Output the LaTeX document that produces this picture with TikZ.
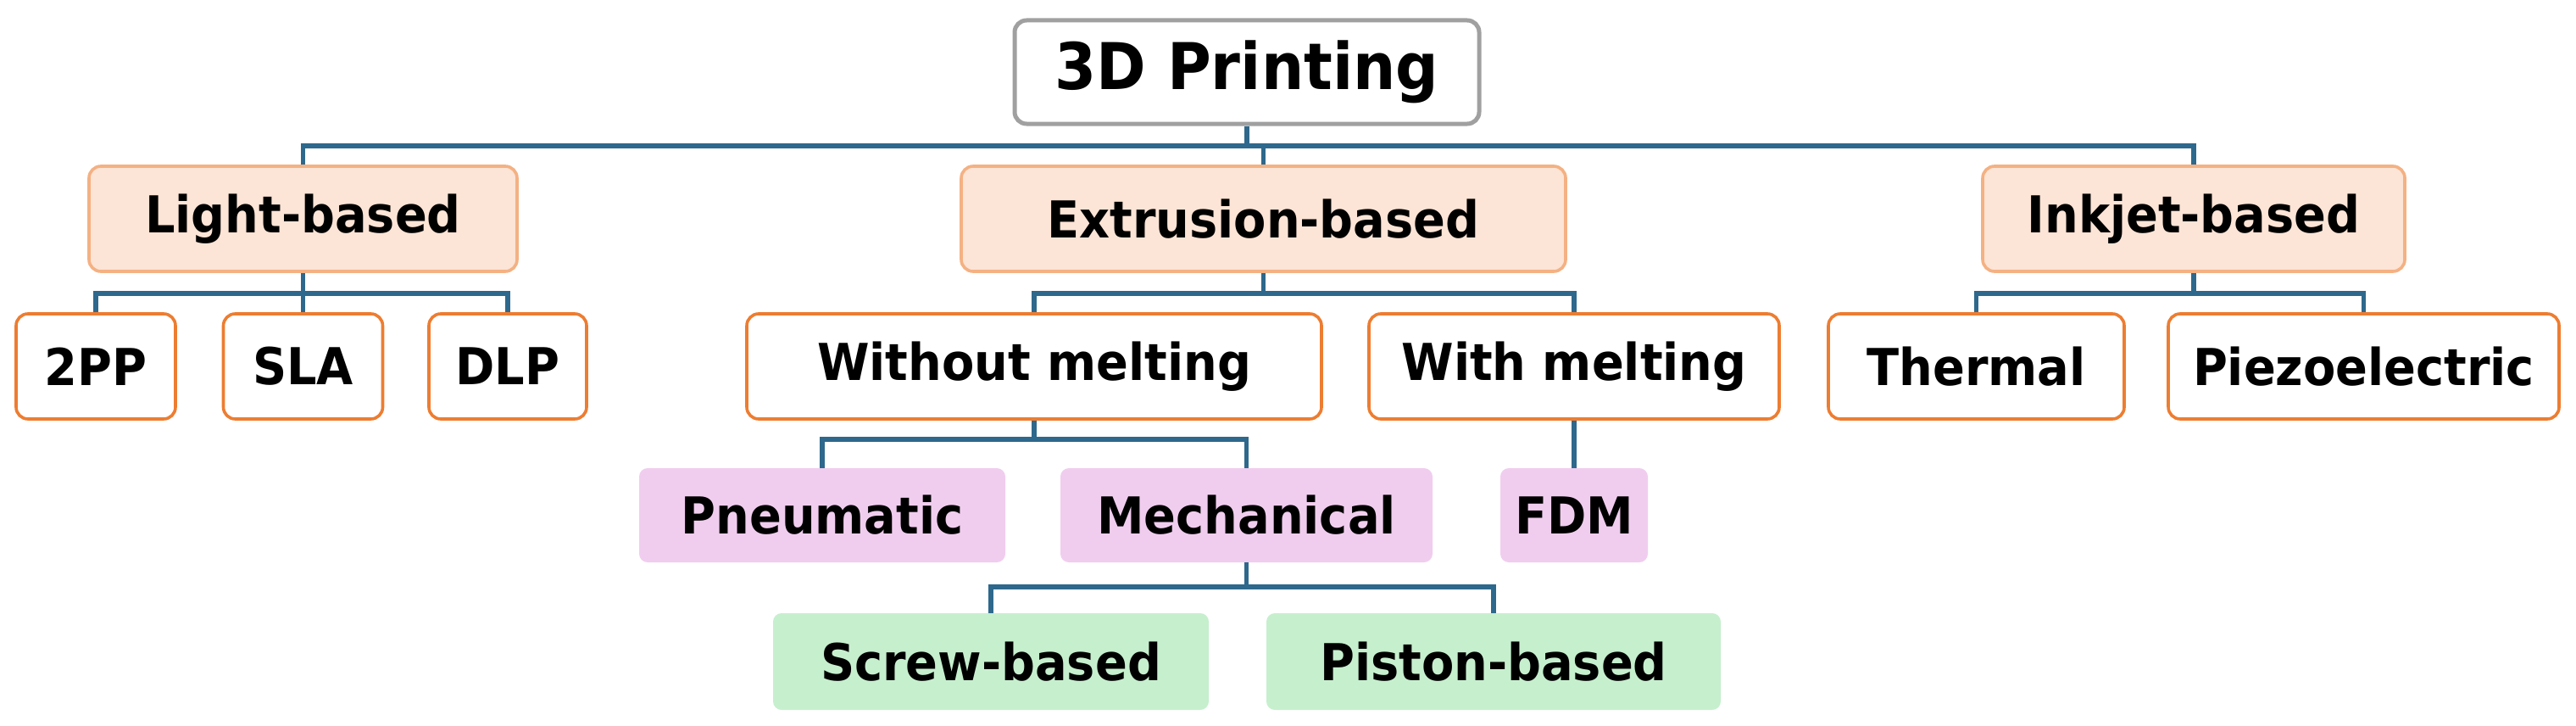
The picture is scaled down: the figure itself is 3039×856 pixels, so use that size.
\documentclass[tikz,border=0pt]{standalone}
\usepackage{fontspec}
\setmainfont[FakeStretch=0.93]{DejaVu Sans}
\definecolor{conn}{RGB}{46,104,140}
\definecolor{orng}{RGB}{237,125,49}
\definecolor{peachfill}{RGB}{252,228,214}
\definecolor{peachline}{RGB}{244,177,131}
\definecolor{pinkfill}{RGB}{240,205,238}
\definecolor{greenfill}{RGB}{198,239,206}
\definecolor{rootline}{RGB}{160,160,160}
\tikzset{
  sz/.style 2 args={minimum width=#1*0.5pt, minimum height=#2*0.5pt},
  base/.style={rectangle, rounded corners=7pt, inner sep=0pt, align=center,
    font=\fontsize{30}{32}\selectfont\bfseries},
  rootbox/.style={base, draw=rootline, line width=2.5pt, fill=white,
    font=\fontsize{38}{40}\selectfont\bfseries},
  peach/.style={base, draw=peachline, line width=1.8pt, fill=peachfill},
  whitebox/.style={base, draw=orng, line width=1.8pt, fill=white},
  pinkbox/.style={base, fill=pinkfill, rounded corners=5pt},
  greenbox/.style={base, fill=greenfill, rounded corners=5pt},
  link/.style={draw=conn, line width=2.6pt}
}
\begin{document}
\begin{tikzpicture}[x=0.5pt,y=-0.5pt]
\useasboundingbox (0,0) rectangle (3039,856);
% nodes
\node[rootbox, sz={548}{122}] (root) at (1471,85) {3D Printing};
\node[peach, sz={505}{124}] (light) at (357.5,258) {Light-based};
\node[peach, sz={713}{124}] (ext) at (1490.5,258) {Extrusion-based};
\node[peach, sz={498}{124}] (ink) at (2588,258) {Inkjet-based};
\node[whitebox, sz={188}{124}] (tpp) at (113,432) {2PP};
\node[whitebox, sz={188}{124}] (sla) at (357.5,432) {SLA};
\node[whitebox, sz={186}{124}] (dlp) at (599,432) {DLP};
\node[whitebox, sz={678}{124}] (wom) at (1220,432) {Without melting};
\node[whitebox, sz={484}{124}] (wm) at (1857,432) {With melting};
\node[whitebox, sz={349}{124}] (therm) at (2331.5,432) {Thermal};
\node[whitebox, sz={461}{124}] (piezo) at (2788.5,432) {Piezoelectric};
\node[pinkbox, sz={432}{111}] (pneu) at (970,607.5) {Pneumatic};
\node[pinkbox, sz={439}{111}] (mech) at (1470.5,607.5) {Mechanical};
\node[pinkbox, sz={174}{111}] (fdm) at (1857,607.5) {FDM};
\node[greenbox, sz={514}{114}] (screw) at (1169,780) {Screw-based};
\node[greenbox, sz={536}{114}] (piston) at (1762,780) {Piston-based};
% bus levels
\coordinate (b1) at (0,172);
\coordinate (b2) at (0,346);
\coordinate (b3) at (0,518);
\coordinate (b4) at (0,692);
% connectors
\draw[link] (root.south) -- (root.south |- b1);
\draw[link] (light.north) |- (ink.north |- b1) -- (ink.north);
\draw[link] (ext.north) -- (ext.north |- b1);
\draw[link] (light.south) -- (light.south |- b2);
\draw[link] (tpp.north) |- (dlp.north |- b2) -- (dlp.north);
\draw[link] (sla.north) -- (sla.north |- b2);
\draw[link] (ext.south) -- (ext.south |- b2);
\draw[link] (wom.north) |- (wm.north |- b2) -- (wm.north);
\draw[link] (ink.south) -- (ink.south |- b2);
\draw[link] (therm.north) |- (piezo.north |- b2) -- (piezo.north);
\draw[link] (wom.south) -- (wom.south |- b3);
\draw[link] (pneu.north) |- (mech.north |- b3) -- (mech.north);
\draw[link] (wm.south) -- (fdm.north);
\draw[link] (mech.south) -- (mech.south |- b4);
\draw[link] (screw.north) |- (piston.north |- b4) -- (piston.north);
\end{tikzpicture}
\end{document}
